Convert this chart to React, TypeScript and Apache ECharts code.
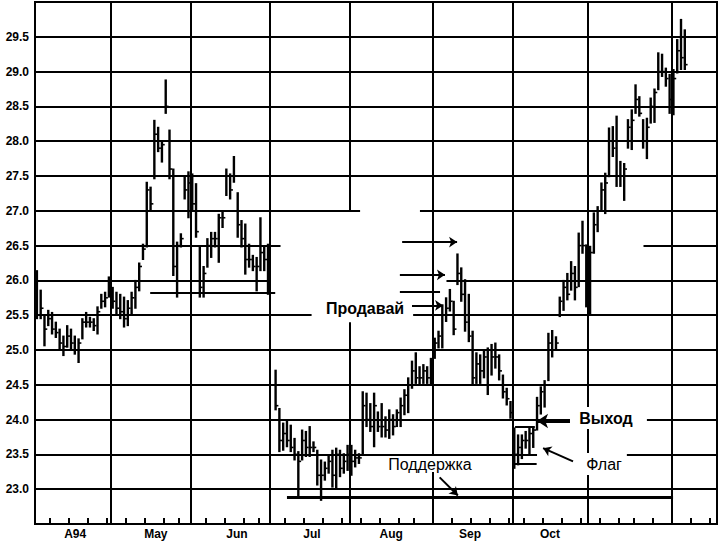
import React, { useEffect, useRef } from "react";
import * as echarts from "echarts";

// ---- Daily price bars (index = trading day, day 0 = first bar of the A94 panel) ----
const highs: (number | null)[] = [
  26.14, 25.86, 25.5, 25.57, 25.54, 25.4, 25.3, 25.2, 25.35, 25.3,
  25.2, 25.16, 25.45, 25.54, 25.47, 25.45, 25.62, 25.8, 25.83, 26.05,
  25.9, 25.83, 25.8, 25.76, 25.71, 25.83, 26.0, 26.25, 26.52, 27.41,
  27.34, 28.3, 28.2, 28.0, 28.88, 28.16, 27.6, 26.55, 26.67, 27.5,
  27.56, 27.53, 27.39, 26.48, 26.2, 26.6, 26.69, 26.69, 26.95, 26.98,
  27.6, 27.53, 27.78, 27.26, 26.86, 26.81, 26.52, 26.36, 26.33, 26.9,
  26.48, 26.52, null, 24.71, 24.16, 23.95, 23.99, 23.92, 23.73, 23.54,
  23.85, 23.83, 23.9, 23.68, 23.56, 23.42, 23.39, 23.49, 23.56, 23.59,
  23.56, 23.51, 23.63, 23.63, 23.56, 23.51, 24.4, 24.38, 24.23, 24.38,
  24.11, 24.23, 24.04, 24.14, 24.07, 24.14, 24.31, 24.43, 24.6, 24.84,
  24.96, 24.76, 24.79, 24.76, 24.88, 25.17, 25.27, 25.65, 25.75, 25.87,
  25.7, 26.38, 26.18, 26.01, 25.8, 25.27, 24.96, 24.93, 24.98, 25.03,
  25.08, 25.1, 24.93, 24.64, 24.45, 24.26, 23.88, 23.78, 23.78, 23.83,
  23.88, 23.9, 24.32, 24.47, 24.56, 25.24, 25.28, 25.19, 25.76, 26.0,
  26.1, 26.27, 26.2, 26.68, 26.85, 26.51, 26.49, 26.97, 27.06, 27.4,
  27.54, 28.19, 28.21, 28.36, 27.71, 27.68, 28.31, 28.45, 28.81, 28.64,
  28.31, 28.33, 28.62, 28.75, 29.27, 29.25, 29.05, 28.96, 29.03, 29.46,
  29.75, 29.6,
];
const lows: (number | null)[] = [
  25.45, 25.45, 25.06, 25.35, 25.23, 25.18, 25.01, 24.92, 25.04, 25.0,
  24.94, 24.82, 25.16, 25.33, 25.33, 25.28, 25.23, 25.6, 25.62, 25.76,
  25.6, 25.5, 25.45, 25.33, 25.35, 25.52, 25.6, 25.85, 26.3, 26.48,
  27.0, 27.46, 27.85, 27.7, 28.4, 27.46, 26.07, 25.76, 26.48, 27.17,
  26.9, 27.0, 26.62, 25.76, 25.76, 26.19, 26.33, 26.48, 26.26, 26.76,
  27.22, 27.17, 27.41, 26.62, 26.48, 26.09, 26.19, 26.14, 25.85, 26.14,
  26.14, 25.8, null, 24.14, 23.54, 23.56, 23.61, 23.54, 23.42, 22.89,
  23.42, 23.47, 23.47, 23.54, 23.06, 22.84, 23.13, 23.23, 23.03, 23.01,
  23.18, 23.23, 23.27, 23.2, 23.32, 23.37, 23.51, 23.9, 23.83, 23.61,
  23.83, 23.75, 23.75, 23.73, 23.78, 23.9, 23.9, 24.07, 24.1, 24.45,
  24.52, 24.5, 24.52, 24.52, 24.5, 24.88, 25.03, 25.03, 25.41, 25.56,
  25.22, 25.94, 25.7, 25.27, 25.12, 24.5, 24.52, 24.52, 24.6, 24.36,
  24.64, 24.74, 24.57, 24.31, 24.21, 24.02, 23.3, 23.35, 23.44, 23.59,
  23.5, 23.6, 23.85, 24.08, 24.18, 24.56, 24.9, 25.0, 25.48, 25.57,
  25.72, 25.86, 25.72, 25.91, 26.39, 25.62, 25.52, 26.39, 26.7, 26.99,
  26.96, 27.49, 27.78, 27.35, 27.35, 27.15, 27.9, 27.88, 28.4, 28.36,
  27.9, 27.75, 28.26, 28.27, 28.74, 28.93, 28.79, 28.4, 28.38, 28.98,
  29.03, 29.03,
];
const closes: (number | null)[] = [
  25.5, 25.6, 25.3, 25.45, 25.3, 25.25, 25.1, 25.05, 25.2, 25.1,
  25.0, 25.1, 25.4, 25.4, 25.4, 25.35, 25.55, 25.7, 25.75, 25.85,
  25.7, 25.6, 25.55, 25.45, 25.6, 25.75, 25.9, 26.2, 26.45, 27.3,
  27.1, 28.1, 27.9, 27.95, 28.5, 27.6, 26.2, 26.5, 26.6, 27.3,
  27.4, 27.1, 26.7, 25.9, 26.1, 26.5, 26.6, 26.6, 26.9, 26.9,
  27.5, 27.3, 27.5, 26.8, 26.6, 26.3, 26.3, 26.2, 26.2, 26.4,
  26.3, 25.9, null, 24.2, 23.7, 23.8, 23.7, 23.6, 23.5, 23.4,
  23.7, 23.6, 23.6, 23.6, 23.2, 23.2, 23.3, 23.4, 23.2, 23.5,
  23.3, 23.4, 23.5, 23.4, 23.45, 23.45, 24.2, 24.0, 23.9, 24.2,
  23.9, 23.9, 23.85, 24.0, 23.9, 24.1, 24.2, 24.35, 24.5, 24.7,
  24.6, 24.6, 24.7, 24.6, 24.8, 25.1, 25.2, 25.5, 25.6, 25.7,
  25.3, 26.1, 25.8, 25.4, 25.2, 24.6, 24.8, 24.7, 24.9, 24.5,
  24.9, 24.9, 24.7, 24.4, 24.3, 24.1, 23.5, 23.6, 23.7, 23.7,
  23.8, 23.85, 24.2, 24.4, 24.5, 25.1, 25.0, 25.1, 25.7, 25.9,
  25.8, 26.1, 25.9, 26.5, 26.5, 25.8, 26.4, 26.8, 27.0, 27.3,
  27.4, 28.0, 27.9, 27.5, 27.5, 27.6, 28.2, 28.3, 28.6, 28.4,
  28.0, 28.2, 28.5, 28.7, 29.0, 29.0, 28.9, 28.6, 28.9, 29.3,
  29.2, 29.1,
];

// ---- Axes ----
const totalDays = 180;
const monthNames = ["A94", "May", "Jun", "Jul", "Aug", "Sep", "Oct"];
const monthLabelDays = [10.6, 31.9, 53.3, 73.1, 94, 114.8, 135.9];
const weekTickDays = [4, 9, 14, 19, 24, 29, 34, 38, 45, 50, 55, 59, 66, 71, 76, 81, 86, 91, 96, 100,
  110, 115, 120, 125, 129, 134, 139, 144, 149, 154, 158, 163, 173, 178];
const priceMin = 22.5;
const priceMax = 30.0;
const priceStep = 0.5;

// ---- Grid rules as drawn in the original (price, fromDay, toDay) ----
const hRules: [number, number, number][] = [
  [23.0, 0, 180],
  [23.5, 0, 132.5], [23.5, 156, 180],
  [24.0, 0, 132.5], [24.0, 161.5, 180],
  [24.5, 0, 180],
  [25.0, 0, 180],
  [25.5, 0, 73], [25.5, 99.8, 180],
  [26.0, 0, 62], [26.0, 108.6, 180],
  [26.5, 0, 64.8], [26.5, 160.6, 180],
  [27.0, 0, 85.8], [27.0, 101.6, 180],
  [27.5, 0, 180],
  [28.0, 0, 180],
  [28.5, 0, 180],
  [29.0, 0, 180],
  [29.5, 0, 180],
];
// vertical month rules (day, fromPrice, toPrice)
const vRules: [number, number, number][] = [
  [20, 22.5, 30], [41, 22.5, 30], [62, 22.5, 30],
  [83, 22.5, 25.4], [83, 27.0, 30],
  [105, 22.5, 30], [126, 22.5, 30], [146, 22.5, 30], [168, 22.5, 30],
];

// ---- Annotation lines (fromDay, fromPrice, toDay, toPrice) ----
const plainLines: [number, number, number, number][] = [
  [30.4, 25.82, 63.4, 25.82],
  [126.7, 23.9, 131.9, 23.9],
  [126.0, 23.37, 132.4, 23.37],
  [96.3, 25.84, 106.9, 25.84],
];
const supportLine: [number, number, number, number] = [66.5, 22.88, 168.4, 22.88];
const arrowLines: [number, number, number, number][] = [
  [96.9, 26.55, 111.4, 26.55],
  [96.3, 26.08, 108.2, 26.08],
  [99.5, 25.64, 107.7, 25.64],
  [106.8, 23.17, 111.6, 22.91],
  [142.0, 23.4, 134.1, 23.59],
];
const exitArrow: [number, number, number, number] = [141.2, 23.98, 132.5, 23.98];

const FONT = '"Liberation Sans", Arial, sans-serif';

function seg(a: [number, number, number, number]) {
  return [{ coord: [a[0], a[1]] }, { coord: [a[2], a[3]] }];
}

function buildOption() {
  const bars = highs
    .map((h, i) => (h == null ? null : [i + 0.5, h, lows[i], closes[i]]))
    .filter((d) => d != null);

  const gridData = [
    ...hRules.map((r) => [{ coord: [r[1], r[0]] }, { coord: [r[2], r[0]] }]),
    ...vRules.map((r) => [{ coord: [r[0], r[1]] }, { coord: [r[0], r[2]] }]),
  ];

  const baseMark = {
    silent: true,
    animation: false,
    label: { show: false },
    emphasis: { disabled: true },
  };

  return {
    animation: false,
    backgroundColor: "#ffffff",
    grid: {
      left: 35, right: 3, top: 2, bottom: 17,
      show: true, borderColor: "#000", borderWidth: 2,
      containLabel: false, outerBoundsMode: "none",
    },
    xAxis: {
      type: "value",
      min: 0,
      max: totalDays,
      axisLine: { show: true, lineStyle: { color: "#000", width: 2 } },
      axisTick: {
        show: true, inside: true, length: 6,
        lineStyle: { color: "#000", width: 2 },
        customValues: weekTickDays,
      },
      axisLabel: {
        show: true,
        customValues: monthLabelDays,
        formatter: (v: number) => {
          let best = 0;
          monthLabelDays.forEach((d, i) => {
            if (Math.abs(d - v) < Math.abs(monthLabelDays[best] - v)) best = i;
          });
          return monthNames[best];
        },
        color: "#000", fontWeight: "bold", fontSize: 12, fontFamily: FONT, margin: 4,
      },
      splitLine: { show: false },
    },
    yAxis: {
      type: "value",
      min: priceMin,
      max: priceMax,
      interval: priceStep,
      axisLine: { show: true, lineStyle: { color: "#000", width: 2 } },
      axisTick: { show: false },
      splitLine: { show: false },
      axisLabel: {
        formatter: (v: number) => (v < priceMin + 0.1 || v > priceMax - 0.1 ? "" : v.toFixed(1)),
        color: "#000", fontWeight: "bold", fontSize: 12, fontFamily: FONT, margin: 6,
      },
    },
    series: [
      {
        type: "line",
        data: [],
        z: 1,
        markLine: {
          ...baseMark,
          symbol: ["none", "none"],
          lineStyle: { color: "#000", width: 2, type: "solid" },
          data: gridData,
        },
      },
      {
        type: "custom",
        z: 3,
        clip: true,
        data: bars,
        encode: { x: 0, y: [1, 2] },
        renderItem: (params: any, api: any) => {
          const x = api.value(0);
          const pHi = api.coord([x, api.value(1)]);
          const pLo = api.coord([x, api.value(2)]);
          const pCl = api.coord([x, api.value(3)]);
          return {
            type: "group",
            children: [
              {
                type: "line",
                shape: { x1: pHi[0], y1: pHi[1] - 0.5, x2: pLo[0], y2: pLo[1] + 0.5 },
                style: { stroke: "#000", lineWidth: 2.4 },
              },
              {
                type: "line",
                shape: { x1: pCl[0], y1: pCl[1], x2: pCl[0] + 2.8, y2: pCl[1] },
                style: { stroke: "#000", lineWidth: 1.6 },
              },
            ],
          };
        },
      },
      {
        type: "line",
        data: [],
        z: 4,
        markLine: {
          ...baseMark,
          symbol: ["none", "none"],
          lineStyle: { color: "#000", width: 2, type: "solid" },
          data: plainLines.map(seg),
        },
      },
      {
        type: "line",
        data: [],
        z: 4,
        markLine: {
          ...baseMark,
          symbol: ["none", "none"],
          lineStyle: { color: "#000", width: 3, type: "solid" },
          data: [seg(supportLine)],
        },
      },
      {
        type: "line",
        data: [],
        z: 4,
        markLine: {
          ...baseMark,
          symbol: ["none", "arrow"],
          symbolSize: 8,
          lineStyle: { color: "#000", width: 2, type: "solid" },
          data: arrowLines.map(seg),
        },
      },
      {
        type: "line",
        data: [],
        z: 4,
        markLine: {
          ...baseMark,
          symbol: ["none", "arrow"],
          symbolSize: 11,
          lineStyle: { color: "#000", width: 4, type: "solid" },
          data: [seg(exitArrow)],
        },
      },
    ],
    graphic: [
      {
        type: "text", z: 100, x: 365, y: 308,
        style: {
          text: "Продавай", fill: "#000", font: `bold 16px ${FONT}`,
          textAlign: "center", textVerticalAlign: "middle", align: "center", verticalAlign: "middle",
          backgroundColor: "#fff", padding: [2, 6],
        },
      },
      {
        type: "text", z: 100, x: 606, y: 418,
        style: {
          text: "Выход", fill: "#000", font: `bold 16px ${FONT}`,
          textAlign: "center", textVerticalAlign: "middle", align: "center", verticalAlign: "middle",
          backgroundColor: "#fff", padding: [3, 6],
        },
      },
      {
        type: "text", z: 100, x: 604, y: 464,
        style: {
          text: "Флаг", fill: "#000", font: `16px ${FONT}`,
          textAlign: "center", textVerticalAlign: "middle", align: "center", verticalAlign: "middle",
          backgroundColor: "#fff", padding: [3, 5],
        },
      },
      {
        type: "text", z: 100, x: 430, y: 464,
        style: {
          text: "Поддержка", fill: "#000", font: `16px ${FONT}`,
          textAlign: "center", textVerticalAlign: "middle", align: "center", verticalAlign: "middle",
          backgroundColor: "#fff", padding: [0, 4],
        },
      },
    ],
  };
}

export default function App() {
  const ref = useRef<HTMLDivElement>(null);
  useEffect(() => {
    document.body.style.margin = "0";
    const chart = echarts.init(ref.current as HTMLDivElement, null, { renderer: "svg" });
    chart.setOption(buildOption() as any);
    return () => chart.dispose();
  }, []);
  return (
    <div
      ref={ref}
      style={{ position: "absolute", left: 0, top: 0, width: 720, height: 541, background: "#fff" }}
    />
  );
}
